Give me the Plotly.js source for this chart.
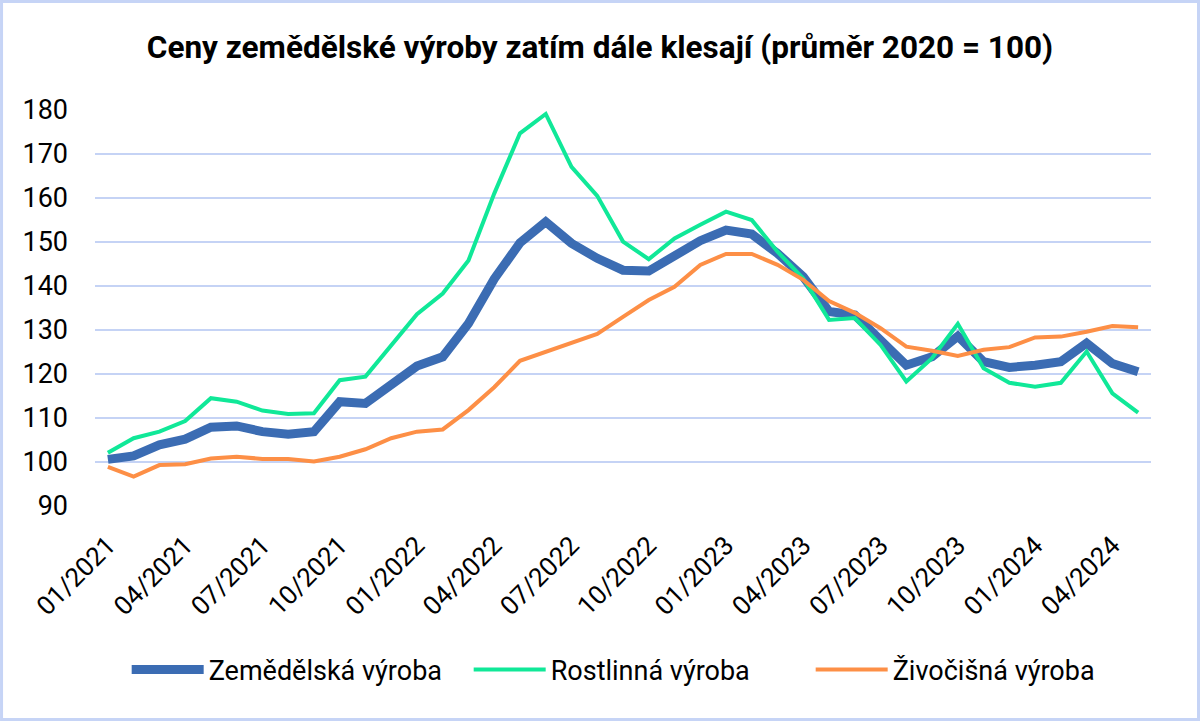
<!DOCTYPE html>
<html>
<head>
<meta charset="utf-8">
<script src="https://cdn.plot.ly/plotly-3.0.1.min.js"></script>
<style>
  body { margin: 0; background: white; }
</style>
</head>
<body>
<div id="myDiv"></div>
<script>
  // months 01/2021 .. 05/2024
  var months = [];
  for (var yr = 2021; yr <= 2024; yr++) {
    for (var m = 1; m <= 12; m++) {
      if (yr === 2024 && m > 5) break;
      months.push((m < 10 ? '0' + m : '' + m) + '/' + yr);
    }
  }

  var tickLabels = ['01/2021', '04/2021', '07/2021', '10/2021', '01/2022', '04/2022', '07/2022',
    '10/2022', '01/2023', '04/2023', '07/2023', '10/2023', '01/2024', '04/2024'];

  var zemedelska = [100.6, 101.4, 103.9, 105.2, 107.9, 108.2, 106.9, 106.3, 106.9, 113.7, 113.3, 117.7,
    121.8, 123.9, 131.5, 141.6, 149.8, 154.6, 149.7, 146.3, 143.6, 143.4, 147.0, 150.3,
    152.7, 151.8, 147.4, 142.1, 134.2, 133.4, 127.7, 122.0, 123.9, 128.6, 122.8, 121.5,
    122.0, 122.8, 127.0, 122.4, 120.5];

  var rostlinna = [102.1, 105.4, 106.9, 109.3, 114.5, 113.7, 111.7, 110.9, 111.1, 118.6, 119.4, 126.6,
    133.6, 138.3, 145.8, 161.0, 174.7, 179.1, 167.1, 160.5, 150.1, 146.1, 150.8, 153.9,
    156.9, 155.0, 147.8, 141.7, 132.3, 132.7, 126.6, 118.3, 123.6, 131.4, 121.3, 118.0,
    117.1, 118.0, 125.1, 115.6, 111.2];

  var zivocisna = [98.9, 96.7, 99.3, 99.5, 100.8, 101.2, 100.7, 100.7, 100.1, 101.2, 102.9, 105.4,
    106.9, 107.4, 111.8, 117.0, 123.0, 125.1, 127.1, 129.1, 133.0, 136.8, 139.8, 144.8,
    147.3, 147.3, 144.8, 141.4, 136.6, 133.9, 130.4, 126.2, 125.3, 124.1, 125.5, 126.1,
    128.3, 128.5, 129.6, 130.9, 130.6];

  var fontFam = 'Roboto, sans-serif';

  var trace1 = {
    x: months,
    y: zemedelska,
    type: 'scatter',
    mode: 'lines',
    name: 'Zemědělská výroba',
    line: { color: '#3b6cb3', width: 9 }
  };

  var trace2 = {
    x: months,
    y: rostlinna,
    type: 'scatter',
    mode: 'lines',
    name: 'Rostlinná výroba',
    line: { color: '#10e898', width: 4 }
  };

  var trace3 = {
    x: months,
    y: zivocisna,
    type: 'scatter',
    mode: 'lines',
    name: 'Živočišná výroba',
    line: { color: '#fd8f46', width: 4 }
  };

  var data = [trace1, trace2, trace3];

  var layout = {
    width: 1200,
    height: 721,
    margin: { l: 95, r: 49, t: 110, b: 215 },
    paper_bgcolor: 'white',
    plot_bgcolor: 'white',
    font: { family: fontFam, color: 'black', size: 26 },
    title: {
      text: '<b>Ceny zemědělské výroby zatím dále klesají (průměr 2020 = 100)</b>',
      font: { family: fontFam, size: 31.5, color: 'black' },
      x: 0.5,
      xanchor: 'center',
      y: 0.935,
      yanchor: 'middle'
    },
    xaxis: {
      type: 'category',
      range: [-0.5, 40.5],
      tickvals: tickLabels,
      ticktext: tickLabels,
      tickangle: -45,
      showgrid: false,
      zeroline: false,
      showline: false,
      ticks: '',
      ticklabelstandoff: 18,
      tickfont: { size: 26 }
    },
    yaxis: {
      range: [90, 180],
      dtick: 10,
      gridcolor: '#c5d3f5',
      gridwidth: 2,
      zeroline: false,
      showline: false,
      ticks: '',
      ticklabelstandoff: 26,
      tickfont: { size: 27 }
    },
    legend: {
      orientation: 'h',
      x: 0.03,
      xanchor: 'left',
      y: -0.414,
      yanchor: 'middle',
      font: { size: 27 },
      itemwidth: 72,
      entrywidth: 255
    },
    // light blue frame round the whole chart
    shapes: [{
      type: 'rect',
      xref: 'paper', yref: 'paper',
      x0: -0.0885, x1: 1.045,
      y0: -0.539, y1: 1.274,
      line: { color: '#c6d4f6', width: 3 },
      layer: 'above'
    }],
    showlegend: true
  };

  var config = { displayModeBar: false };

  Plotly.newPlot('myDiv', data, layout, config);
</script>
</body>
</html>
